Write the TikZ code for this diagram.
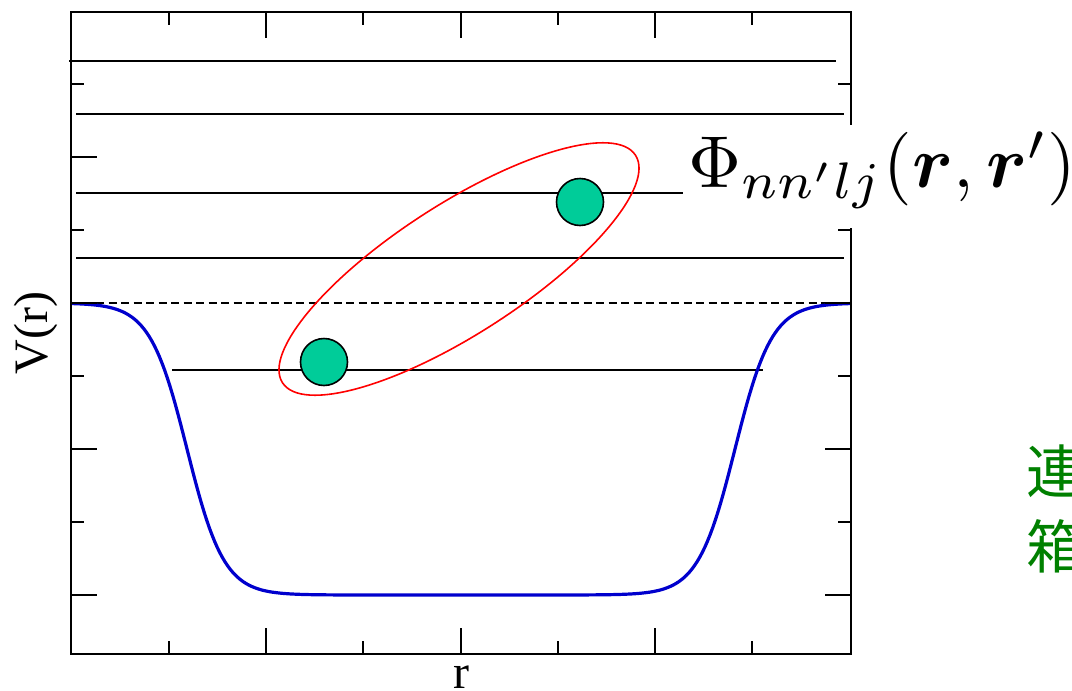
\RequirePackage{fix-cm}
\documentclass[tikz,border=0pt]{standalone}
\usepackage[no-math]{fontspec}
\usepackage{bm}
\usepackage{graphicx}
\newfontfamily\timesf{Liberation Serif}
\newfontfamily\cjkf{Noto Sans CJK JP}
\definecolor{ballgreen}{RGB}{0,204,153}
\definecolor{wellblue}{RGB}{0,0,205}
\definecolor{textgreen}{RGB}{0,128,0}
\tikzset{
  frameline/.style={line width=2pt},
  levelline/.style={line width=2pt},
  tickline/.style={line width=2.2pt},
  zeroline/.style={line width=2pt, dash pattern=on 8pt off 4.5pt},
  wellcurve/.style={wellblue, line width=3.2pt},
  pairellipse/.style={red, line width=1.6pt},
  ball/.style={circle, draw, fill=ballgreen, line width=1.6pt, minimum size=47pt, inner sep=0pt},
  axislabel/.style={font=\timesf\fontsize{48}{50}\selectfont, inner sep=0pt}
}
\begin{document}
\begin{tikzpicture}[x=1pt,y=-1pt]
\useasboundingbox (0,0) rectangle (1072,691);
% levels
\draw[levelline] (69,61) -- (836,61);
\draw[levelline] (76,114) -- (844,114);
\draw[levelline] (76,193) -- (844,193);
\draw[levelline] (76,258) -- (844,258);
\draw[levelline] (172,370) -- (763,370);
% zero line
\draw[zeroline] (71,303) -- (851,303);
% potential well
\draw[wellcurve] plot[domain=71:851, samples=300] (\x, {303+292/(1+exp((abs(\x-461)-274)/18.5))});
% pair ellipse
\coordinate (ec) at (459,269);
\draw[pairellipse, rotate around={32.8:(ec)}] (ec) ellipse [x radius=210pt, y radius=65pt];
% particles
\node[ball] (p1) at (324,362) {};
\node[ball] (p2) at (580,202) {};
% frame and ticks
\draw[frameline] (71,12) rectangle (851,654);
\foreach \x in {266,461,655} {
  \draw[tickline] (\x,654) -- (\x,628);
  \draw[tickline] (\x,12) -- (\x,38);
}
\foreach \x in {169,363,558,752} {
  \draw[tickline] (\x,654) -- (\x,641);
  \draw[tickline] (\x,12) -- (\x,25);
}
\foreach \y in {157,303,449,595} {
  \draw[tickline] (71,\y) -- (97,\y);
  \draw[tickline] (851,\y) -- (825,\y);
}
\foreach \y in {84,230,376,522} {
  \draw[tickline] (71,\y) -- (84,\y);
  \draw[tickline] (851,\y) -- (838,\y);
}
% axis labels
\node[axislabel, rotate=90] (vlabel) at (36,333) {V(r)};
\node[axislabel, anchor=base] (rlabel) at (461,688) {r};
% wave function label
\fill[white] (683,125) rectangle (1072,228);
\node[anchor=base west, inner sep=0pt, font=\fontsize{10}{12}\selectfont] (philabel) at (688,187) {\scalebox{7.35}{$\Phi_{nn'lj}(\bm{r},\bm{r}')$}};
% green side text (cut off at the right edge)
\node[anchor=north west, align=left, inner sep=0pt, text=textgreen, font=\cjkf\fontsize{58}{75}\selectfont] (sidetext) at (1026,445) {連\\箱};
\end{tikzpicture}
\end{document}
